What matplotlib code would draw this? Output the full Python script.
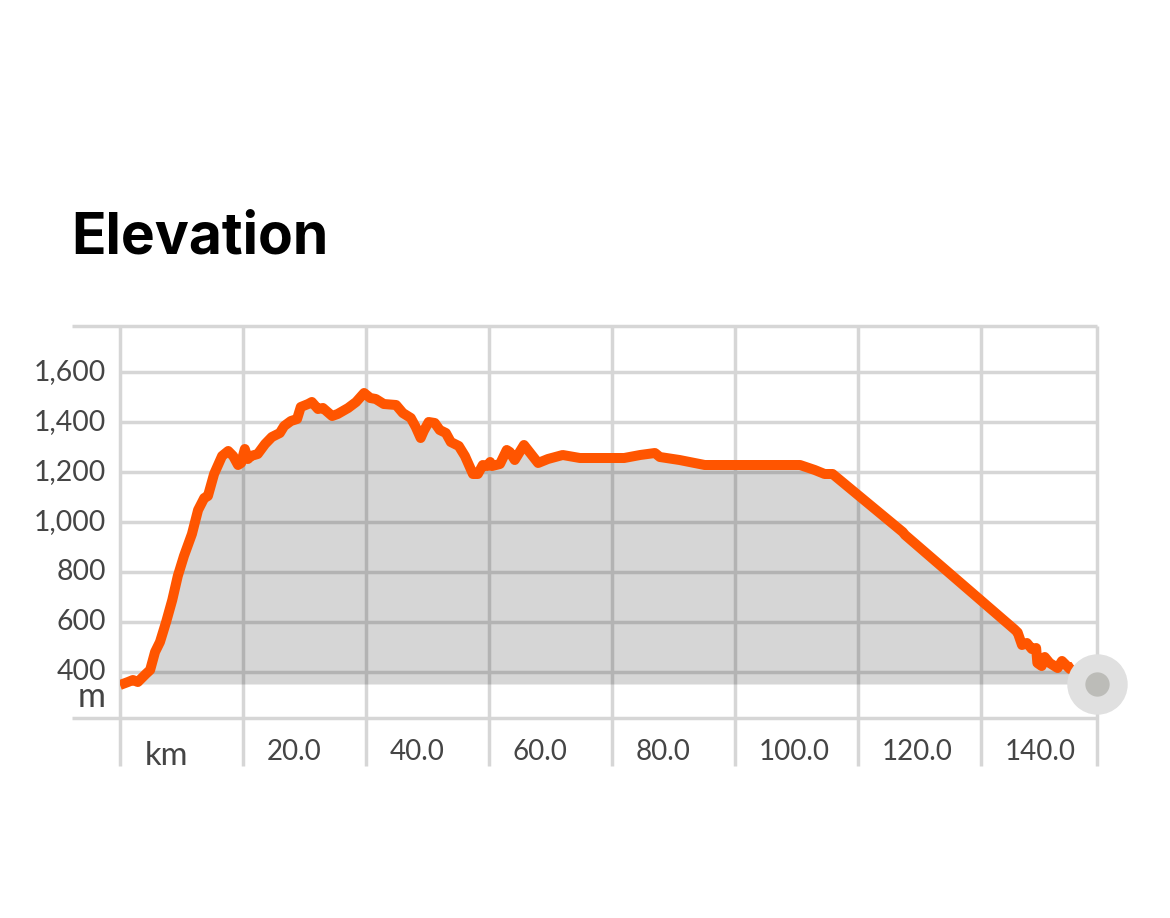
import matplotlib
matplotlib.use("Agg")
import matplotlib.pyplot as plt

km = [0, 1.3, 2.1, 2.9, 4.2, 4.9, 5.7, 6.5, 7.5, 8.5, 9.4, 10.4, 11.7, 12.7, 13.7, 14.3, 15.3, 16.6, 17.6,
      18.4, 19.2, 19.7, 20.3, 20.8, 21.3, 22.4, 23.6, 24.7, 26, 26.7, 27.8, 28.8, 29.4, 30.6, 31.2, 32.2,
      33, 34.5, 35.4, 37.1, 38.4, 39.7, 40.7, 41.6, 42.9, 44.9, 46, 47.3, 48.1, 48.9, 49.4, 50.2, 51.2,
      52, 53, 53.8, 55.1, 56.1, 57.4, 58.2, 59, 59.7, 60.2, 60.5, 61.8, 62.9, 63.4, 64.2, 65.7, 68, 69.6,
      72, 74.8, 82, 84.6, 87, 87.8, 91, 95.1, 108.9, 110.6, 113, 114.6, 115.9, 127.3, 127.7, 145.5, 146,
      146.7, 147.5, 148.3, 149, 149.2, 149.9, 150.4, 151.2, 152.5, 153.2, 154.5, 155.2]
elev = [346, 358, 366, 358, 390, 406, 478, 518, 598, 686, 782, 862, 950, 1046, 1094, 1102, 1190, 1262, 1282,
        1262, 1226, 1234, 1290, 1250, 1262, 1270, 1310, 1338, 1354, 1382, 1402, 1410, 1458, 1470, 1478, 1450,
        1454, 1422, 1430, 1454, 1478, 1514, 1494, 1490, 1470, 1466, 1434, 1414, 1378, 1334, 1362, 1398, 1394,
        1366, 1354, 1318, 1302, 1262, 1190, 1190, 1226, 1222, 1238, 1222, 1230, 1286, 1278, 1246, 1306, 1234, 1250,
        1266, 1254, 1254, 1266, 1274, 1258, 1246, 1226, 1226, 1226, 1206, 1190, 1190, 958, 946, 568, 556,
        506, 514, 490, 494, 434, 422, 458, 434, 414, 442, 410, 422]

x_ticks = [0, 20, 40, 60, 80, 100, 120, 140, 158.9]
x_labels = ["20.0", "40.0", "60.0", "80.0", "100.0", "120.0", "140.0"]
x_label_pos = [20, 40, 60, 80, 100, 120, 140]
y_ticks = [400, 600, 800, 1000, 1200, 1400, 1600]
y_labels = ["400", "600", "800", "1,000", "1,200", "1,400", "1,600"]
y_frame = [214, 1782]
base = 350
x_end = 158.9

W, H = 1170, 918
fig = plt.figure(figsize=(W / 100, H / 100), dpi=100, facecolor="white")
ax = fig.add_axes([120 / W, 1 - 766 / H, (1097 - 120) / W, (766 - 326) / H])
ax.set_xlim(0, x_end)
ax.set_ylim(22, 1782)
ax.axis("off")

GRID = "#d6d6d6"
TXT = "#454545"
FONT = "Lato"

ax.vlines(x_ticks, 22, 1782, color=GRID, lw=2.5, zorder=1, clip_on=False)
ax.hlines(y_ticks, 0, x_end, color=GRID, lw=2.5, zorder=1, clip_on=False)
ax.hlines(y_frame, -7.8, x_end, color=GRID, lw=2.5, zorder=1, clip_on=False)

ax.fill_between(km, elev, base, color="black", alpha=0.16, lw=0, zorder=2)
ax.plot(km, elev, color="#ff5500", lw=7.2, solid_joinstyle="round", solid_capstyle="butt", zorder=3)

ax.plot([x_end], [base], "o", ms=43.5, mfc="#e0e0e0", mec="none", zorder=4, clip_on=False)
ax.plot([x_end], [base], "o", ms=17.5, mfc="#bcbcb8", mec="none", zorder=5, clip_on=False)

for v, s in zip(y_ticks, y_labels):
    ax.annotate(s, xy=(0, v), xytext=(-10, -0.5), textcoords="offset points", ha="right", va="center",
                fontsize=20.4, color=TXT, family=FONT)
ax.annotate("m", xy=(0, base), xytext=(-10, -16.5), textcoords="offset points", ha="right", va="baseline",
            fontsize=24.5, color=TXT, family=FONT)
for t, s in zip(x_label_pos, x_labels):
    ax.annotate(s, xy=(t, 22), xytext=(17.3, 4), textcoords="offset points", ha="left", va="baseline",
                fontsize=20, color=TXT, family=FONT)
ax.annotate("km", xy=(0, 22), xytext=(18, 0.5), textcoords="offset points", ha="left", va="baseline",
            fontsize=23.5, color=TXT, family=FONT)

fig.text(71.5 / W, 1 - 254 / H, "Elevation", fontsize=41, fontweight="bold", family="Inter", color="black",
         ha="left", va="baseline")

fig.savefig("out.png", dpi=100)
